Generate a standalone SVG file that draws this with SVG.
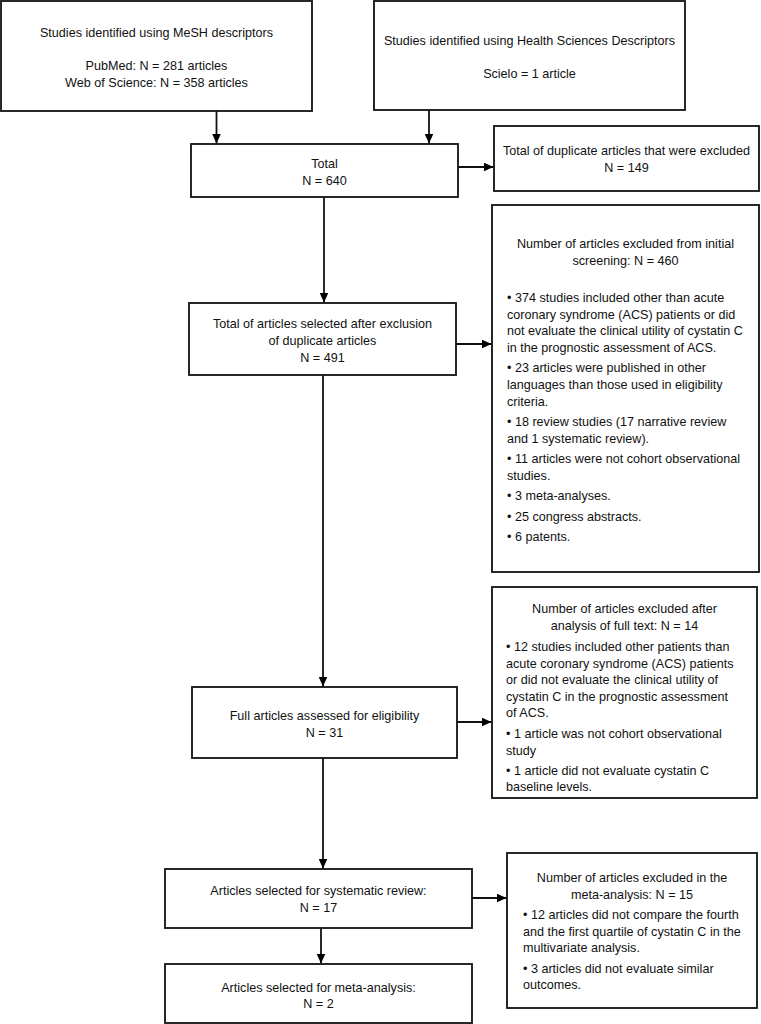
<svg xmlns="http://www.w3.org/2000/svg" width="761" height="1024" viewBox="0 0 761 1024">
<defs>
<marker id="ah" markerUnits="userSpaceOnUse" markerWidth="11" markerHeight="10" refX="10" refY="4.5" orient="auto">
<path d="M0,0 L10,4.5 L0,9 z" fill="#000"/>
</marker>
<style>
rect{fill:#fff;stroke:#111;stroke-width:1.8}
text{font-family:"Liberation Sans",Arial,sans-serif;font-size:12.6px;fill:#111}
.c{text-anchor:middle}
.l{stroke:#111;stroke-width:1.8;fill:none;marker-end:url(#ah)}
</style>
</defs>
<rect x="0" y="0" width="761" height="1024" style="fill:#fff;stroke:none"/>
<g id="connectors">
<line class="l" x1="216.5" y1="111" x2="216.5" y2="143.5"/>
<line class="l" x1="429" y1="110" x2="429" y2="143.5"/>
<line class="l" x1="458" y1="167" x2="493.5" y2="167"/>
<line class="l" x1="324" y1="197" x2="324" y2="302.5"/>
<line class="l" x1="456" y1="344" x2="491.5" y2="344"/>
<line class="l" x1="323" y1="375" x2="323" y2="686.5"/>
<line class="l" x1="457" y1="722" x2="491.5" y2="722"/>
<line class="l" x1="323" y1="758" x2="323" y2="868.5"/>
<line class="l" x1="472" y1="898" x2="506.5" y2="898"/>
<line class="l" x1="321" y1="928" x2="321" y2="963.5"/>
</g>
<g id="mesh">
<rect x="1" y="1" width="311" height="110"/>
<text class="c" x="156.5" y="37">Studies identified using MeSH descriptors</text>
<text class="c" x="156.5" y="70">PubMed: N = 281 articles</text>
<text class="c" x="156.5" y="87">Web of Science: N = 358 articles</text>
</g>
<g id="decs">
<rect x="374" y="1" width="311" height="109"/>
<text class="c" x="529.5" y="45">Studies identified using Health Sciences Descriptors</text>
<text class="c" x="529.5" y="78">Scielo = 1 article</text>
</g>
<g id="total">
<rect x="191" y="144" width="267" height="53"/>
<text class="c" x="324.5" y="168">Total</text>
<text class="c" x="324.5" y="185">N = 640</text>
</g>
<g id="duplicates">
<rect x="494" y="126" width="265" height="65"/>
<text class="c" x="626.5" y="155">Total of duplicate articles that were excluded</text>
<text class="c" x="626.5" y="172">N = 149</text>
</g>
<g id="after-dup">
<rect x="189" y="303" width="267" height="72"/>
<text class="c" x="322.5" y="328">Total of articles selected after exclusion</text>
<text class="c" x="322.5" y="345">of duplicate articles</text>
<text class="c" x="322.5" y="362">N = 491</text>
</g>
<g id="screening-excl">
<rect x="492" y="205" width="267" height="367"/>
<text class="c" x="625.5" y="248">Number of articles excluded from initial</text>
<text class="c" x="625.5" y="265">screening: N = 460</text>
<text x="507" y="302">• 374 studies included other than acute</text>
<text x="507" y="318.6">coronary syndrome (ACS) patients or did</text>
<text x="507" y="335.2">not evaluate the clinical utility of cystatin C</text>
<text x="507" y="351.8">in the prognostic assessment of ACS.</text>
<text x="507" y="372.3">• 23 articles were published in other</text>
<text x="507" y="388.9">languages than those used in eligibility</text>
<text x="507" y="405.5">criteria.</text>
<text x="507" y="426">• 18 review studies (17 narrative review</text>
<text x="507" y="442.6">and 1 systematic review).</text>
<text x="507" y="463.1">• 11 articles were not cohort observational</text>
<text x="507" y="479.7">studies.</text>
<text x="507" y="500.2">• 3 meta-analyses.</text>
<text x="507" y="520.7">• 25 congress abstracts.</text>
<text x="507" y="541.2">• 6 patents.</text>
</g>
<g id="full-articles">
<rect x="192" y="687" width="265" height="71"/>
<text class="c" x="324.5" y="720">Full articles assessed for eligibility</text>
<text class="c" x="324.5" y="737">N = 31</text>
</g>
<g id="fulltext-excl">
<rect x="492" y="587" width="265" height="211"/>
<text class="c" x="624.5" y="613">Number of articles excluded after</text>
<text class="c" x="624.5" y="630">analysis of full text: N = 14</text>
<text x="506" y="651">• 12 studies included other patients than</text>
<text x="506" y="667.6">acute coronary syndrome (ACS) patients</text>
<text x="506" y="684.2">or did not evaluate the clinical utility of</text>
<text x="506" y="700.8">cystatin C in the prognostic assessment</text>
<text x="506" y="717.4">of ACS.</text>
<text x="506" y="738">• 1 article was not cohort observational</text>
<text x="506" y="754.6">study</text>
<text x="506" y="774.6">• 1 article did not evaluate cystatin C</text>
<text x="506" y="791.2">baseline levels.</text>
</g>
<g id="systematic-review">
<rect x="165" y="869" width="307" height="59"/>
<text class="c" x="318.5" y="895">Articles selected for systematic review:</text>
<text class="c" x="318.5" y="912">N = 17</text>
</g>
<g id="meta-excl">
<rect x="507" y="853" width="250" height="155"/>
<text class="c" x="632" y="882">Number of articles excluded in the</text>
<text class="c" x="632" y="899">meta-analysis: N = 15</text>
<text x="523" y="919">• 12 articles did not compare the fourth</text>
<text x="523" y="935.6">and the first quartile of cystatin C in the</text>
<text x="523" y="952.2">multivariate analysis.</text>
<text x="523" y="972.7">• 3 articles did not evaluate similar</text>
<text x="523" y="989.3">outcomes.</text>
</g>
<g id="meta-analysis">
<rect x="165" y="964" width="307" height="59"/>
<text class="c" x="318.5" y="992">Articles selected for meta-analysis:</text>
<text class="c" x="318.5" y="1008">N = 2</text>
</g>
</svg>
